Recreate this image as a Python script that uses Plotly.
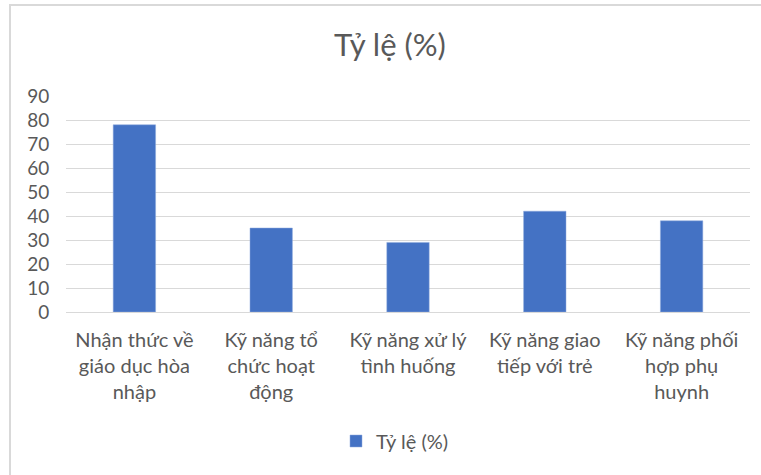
import plotly.graph_objects as go

categories = [
    "Nhận thức về<br>giáo dục hòa<br>nhập",
    "Kỹ năng tổ<br>chức hoạt<br>động",
    "Kỹ năng xử lý<br>tình huống",
    "Kỹ năng giao<br>tiếp với trẻ",
    "Kỹ năng phối<br>hợp phụ<br>huynh",
]
values = [78, 35, 29, 42, 38]
series_name = "Tỷ lệ (%)"
y_ticks = [0, 10, 20, 30, 40, 50, 60, 70, 80, 90]

FONT = "Lato"
TEXT = "#595959"

fig = go.Figure(
    go.Bar(
        x=categories,
        y=values,
        name=series_name,
        marker=dict(color="#4472C4", line=dict(color="#8FAADC", width=0.5)),
    )
)

W, H = 761, 475
L, R, T, B = 66, 11, 96, 163
pw, ph = W - L - R, H - T - B

def px_to_paper_x(px):
    return (px - L) / pw

def px_to_paper_y(py):
    return (H - B - py) / ph

fig.update_layout(
    width=W,
    height=H,
    margin=dict(l=L, r=R, t=T, b=B, autoexpand=False),
    paper_bgcolor="white",
    plot_bgcolor="white",
    font=dict(family=FONT, color=TEXT, size=20),
    title=dict(
        text="Tỷ lệ (%)",
        font=dict(family=FONT, size=31, color=TEXT),
        x=390 / W,
        xanchor="center",
        xref="container",
        y=1 - 45 / H,
        yanchor="middle",
        yref="container",
    ),
    bargap=0.69,
    showlegend=True,
    legend=dict(
        orientation="h",
        x=px_to_paper_x(395),
        xanchor="center",
        y=px_to_paper_y(441),
        yanchor="middle",
        font=dict(family=FONT, size=20, color=TEXT),
        itemwidth=30,
    ),
    xaxis=dict(
        showgrid=False,
        showline=False,
        ticks="outside",
        ticklen=10,
        tickcolor="rgba(0,0,0,0)",
        tickfont=dict(family=FONT, size=20, color=TEXT),
        tickangle=0,
        automargin=False,
    ),
    yaxis=dict(
        range=[0, 90],
        tickvals=y_ticks,
        showgrid=True,
        gridcolor="#D9D9D9",
        gridwidth=1,
        zeroline=True,
        zerolinecolor="#D9D9D9",
        zerolinewidth=1,
        showline=False,
        ticks="outside",
        ticklen=12,
        tickcolor="rgba(0,0,0,0)",
        tickfont=dict(family=FONT, size=19, color=TEXT),
        automargin=False,
    ),
    shapes=[
        dict(
            type="rect",
            xref="paper",
            yref="paper",
            x0=px_to_paper_x(10),
            x1=px_to_paper_x(790),
            y0=px_to_paper_y(520),
            y1=px_to_paper_y(5),
            line=dict(color="#D9D9D9", width=2),
            fillcolor="rgba(0,0,0,0)",
            layer="below",
        )
    ],
)

fig.write_html(
    "out.html",
    config={"displayModeBar": False},
    post_script="document.body.style.margin='0';document.body.style.overflow='hidden';",
)
